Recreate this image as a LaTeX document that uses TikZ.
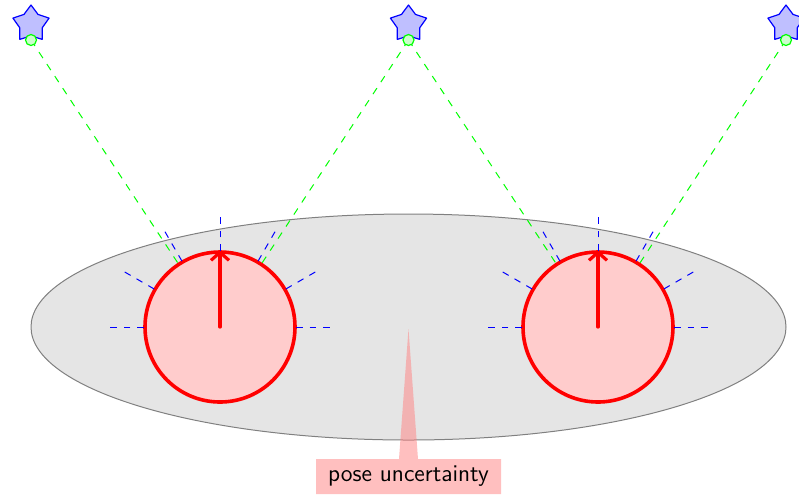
\documentclass[tikz,border=0pt]{standalone}
\usetikzlibrary{shapes.geometric,shapes.callouts,arrows.meta,calc}

\tikzset{
  landmark/.style={star, star points=5, star point ratio=1.6, draw=blue, fill=blue!25,
    minimum size=19pt, inner sep=0pt, line width=0.6pt},
  lmpoint/.style={circle, draw=green, fill=green!20, minimum size=5.5pt, inner sep=0pt, line width=0.6pt},
  robot/.style={circle, draw=red, fill=red!20, line width=1.8pt, minimum size=75pt, inner sep=0pt},
  sight/.style={dash pattern=on 3.6pt off 3.6pt, green, line width=0.5pt},
  beam/.style={dash pattern=on 3.4pt off 3.4pt, blue, line width=0.5pt},
  heading/.style={red, line width=1.6pt, line cap=round, -{Straight Barb[length=4pt,width=9pt]}},
  note/.style={rectangle callout, fill=red!50, fill opacity=0.5, text opacity=1,
    callout pointer width=9.5pt, minimum width=92.5pt, minimum height=17.5pt, font=\sffamily\large}
}

\begin{document}
\begin{tikzpicture}[x=0.5pt, y=-0.5pt, line join=round]
    \useasboundingbox (0,0) rectangle (799,495);

    % 位姿不确定性椭圆
    \draw[gray, fill=gray!20, line width=0.5pt] (408.5,327) ellipse [x radius=188.75pt, y radius=56.5pt];

    % 机器人
    \node[robot] (r1) at (220,327) {};
    \node[robot] (r2) at (598,327) {};
    \draw[heading] (r1.center) -- (r1.north);
    \draw[heading] (r2.center) -- (r2.north);

    % 路标
    \node[landmark] (s1) at (31,24) {};
    \node[landmark] (s2) at (408.5,24) {};
    \node[landmark] (s3) at (786,24) {};

    % 观测线
    \coordinate (l1c) at (31,40);
    \coordinate (l2c) at (408.5,40);
    \coordinate (l3c) at (786,40);
    \draw[sight] (l1c) -- (r1);
    \draw[sight] (l2c) -- (r1);
    \draw[sight] (l2c) -- (r2);
    \draw[sight] (l3c) -- (r2);

    % 传感器光束
    \foreach \r in {r1, r2}
      \foreach \a in {0,30,...,180}
        \draw[beam] ($(\r)+(\a:38pt)$) -- ($(\r)+(\a:57pt)$);

    \node[lmpoint] (l1) at (l1c) {};
    \node[lmpoint] (l2) at (l2c) {};
    \node[lmpoint] (l3) at (l3c) {};

    % 标注
    \coordinate (tip) at (408.5,329);
    \node[note, callout absolute pointer=(tip)] (pose) at (408.5,476.5) {pose uncertainty};
\end{tikzpicture}
\end{document}
